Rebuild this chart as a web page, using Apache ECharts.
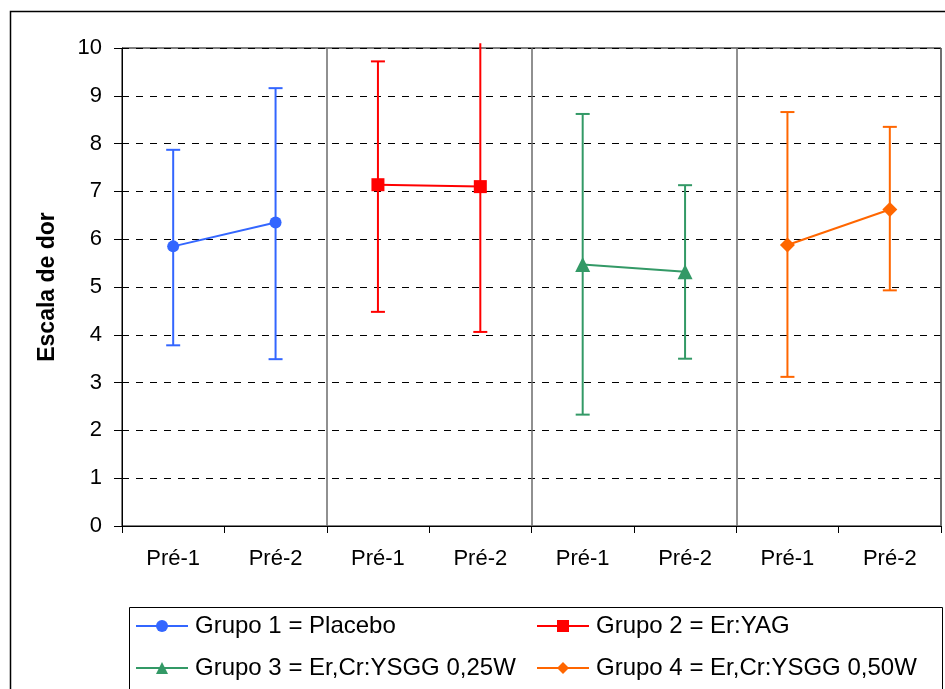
<!DOCTYPE html>
<html>
<head>
<meta charset="utf-8">
<script src="https://cdn.jsdelivr.net/npm/echarts@6/dist/echarts.min.js"></script>
<style>html,body{margin:0;padding:0;background:#fff;}#c{width:945px;height:689px;}</style>
</head>
<body>
<div id="c"></div>
<script>
const categories = ['Pré-1','Pré-2','Pré-1','Pré-2','Pré-1','Pré-2','Pré-1','Pré-2'];
const yTicks = [0,1,2,3,4,5,6,7,8,9,10];
const groupNames = ['Grupo 1 = Placebo','Grupo 2 = Er:YAG','Grupo 3 = Er,Cr:YSGG 0,25W','Grupo 4 = Er,Cr:YSGG 0,50W'];
const g1Mean = [5.85, 6.35], g1Low = [3.78, 3.49], g1High = [7.87, 9.16];
const g2Mean = [7.14, 7.10], g2Low = [4.48, 4.06], g2High = [9.72, 10.1];
const g3Mean = [5.47, 5.32], g3Low = [2.33, 3.50], g3High = [8.62, 7.13];
const g4Mean = [5.88, 6.62], g4Low = [3.12, 4.93], g4High = [8.66, 8.35];

const groups = [
  {mean:g1Mean, low:g1Low, high:g1High, color:'#3366FF', symbol:'circle', size:12},
  {mean:g2Mean, low:g2Low, high:g2High, color:'#FF0000', symbol:'rect', size:13},
  {mean:g3Mean, low:g3Low, high:g3High, color:'#339966', symbol:'triangle', size:15},
  {mean:g4Mean, low:g4Low, high:g4High, color:'#FF6600', symbol:'diamond', size:15}
];
const yMin = yTicks[0], yMax = yTicks[yTicks.length-1];
const FONT = 'Liberation Sans, Arial, Helvetica, sans-serif';

const series = [];
groups.forEach((g, gi) => {
  const lineData = categories.map(() => null);
  const errData = [];
  g.mean.forEach((m, k) => {
    const idx = gi*2 + k;
    lineData[idx] = m;
    errData.push([idx, g.low[k], g.high[k]]);
  });
  series.push({
    type: 'custom',
    name: groupNames[gi] + ' err',
    clip: false,
    z: 1,
    silent: true,
    data: errData,
    renderItem: function(params, api) {
      const x = api.value(0), lo = api.value(1), hi = api.value(2);
      const pLo = api.coord([x, lo]);
      const pHi = api.coord([x, Math.min(hi, yMax + 0.1)]);
      const half = 7;
      const st = {stroke: g.color, lineWidth: 2};
      const ch = [
        {type:'line', shape:{x1:pLo[0], y1:pLo[1], x2:pHi[0], y2:pHi[1]}, style:st},
        {type:'line', shape:{x1:pLo[0]-half, y1:pLo[1], x2:pLo[0]+half, y2:pLo[1]}, style:st}
      ];
      if (hi <= yMax) {
        ch.push({type:'line', shape:{x1:pHi[0]-half, y1:pHi[1], x2:pHi[0]+half, y2:pHi[1]}, style:st});
      }
      return {type:'group', children: ch};
    }
  });
  series.push({
    type: 'line',
    name: groupNames[gi],
    data: lineData,
    connectNulls: false,
    z: 3,
    symbol: g.symbol,
    symbolSize: g.size,
    showAllSymbol: true,
    color: g.color,
    lineStyle: {color: g.color, width: 2},
    itemStyle: {color: g.color},
    animation: false
  });
});

const legendPos = [
  {left: 135, top: 614}, {left: 536, top: 614},
  {left: 135, top: 656}, {left: 536, top: 656}
];
const legends = groupNames.map((n, i) => ({
  data: [n],
  left: legendPos[i].left,
  top: legendPos[i].top,
  itemWidth: 52,
  itemHeight: 15,
  itemGap: 0,
  padding: 0,
  selectedMode: false,
  lineStyle: {width: 2},
  textStyle: {fontFamily: FONT, fontSize: 24, color: '#000', padding: [0,0,0,2]}
}));

const option = {
  animation: false,
  backgroundColor: '#fff',
  grid: {left: 122, right: 4, top: 48, bottom: 163, show: true, borderColor: '#000', borderWidth: 1, containLabel: false},
  legend: legends,
  xAxis: {
    type: 'category',
    data: categories,
    boundaryGap: true,
    axisLine: {lineStyle: {color: '#000', width: 1}},
    axisTick: {show: true, interval: 0, length: 7, lineStyle: {color: '#000'}},
    axisLabel: {interval: 0, margin: 22, fontFamily: FONT, fontSize: 22, color: '#000'},
    splitLine: {show: true, interval: function(i){ return i % 2 === 0 && i > 0; }, lineStyle: {color: '#6b6b6b', width: 1.5, type: 'solid'}}
  },
  yAxis: {
    type: 'value',
    min: yMin, max: yMax, interval: 1,
    name: 'Escala de dor',
    nameLocation: 'middle',
    nameGap: 63,
    nameTextStyle: {fontFamily: FONT, fontSize: 23, fontWeight: 'bold', color: '#000'},
    axisLine: {show: true, lineStyle: {color: '#000', width: 1}},
    axisTick: {show: true, length: 8, lineStyle: {color: '#000'}},
    axisLabel: {margin: 20, fontFamily: FONT, fontSize: 22, color: '#000'},
    splitLine: {show: true, lineStyle: {color: '#000', width: 1, type: [7, 7]}}
  },
  graphic: [
    {type:'rect', left: 8, top: 9, shape:{width: 960, height: 700}, style:{fill: 'none', stroke: '#000', lineWidth: 1.5}, z: -1, silent: true},
    {type:'rect', left: 127, top: 605, shape:{width: 813, height: 82}, style:{fill: 'none', stroke: '#000', lineWidth: 1}, z: -1, silent: true}
  ],
  series: series
};
const chart = echarts.init(document.getElementById('c'), null, {renderer: 'canvas'});
chart.setOption(option);
</script>
</body>
</html>
